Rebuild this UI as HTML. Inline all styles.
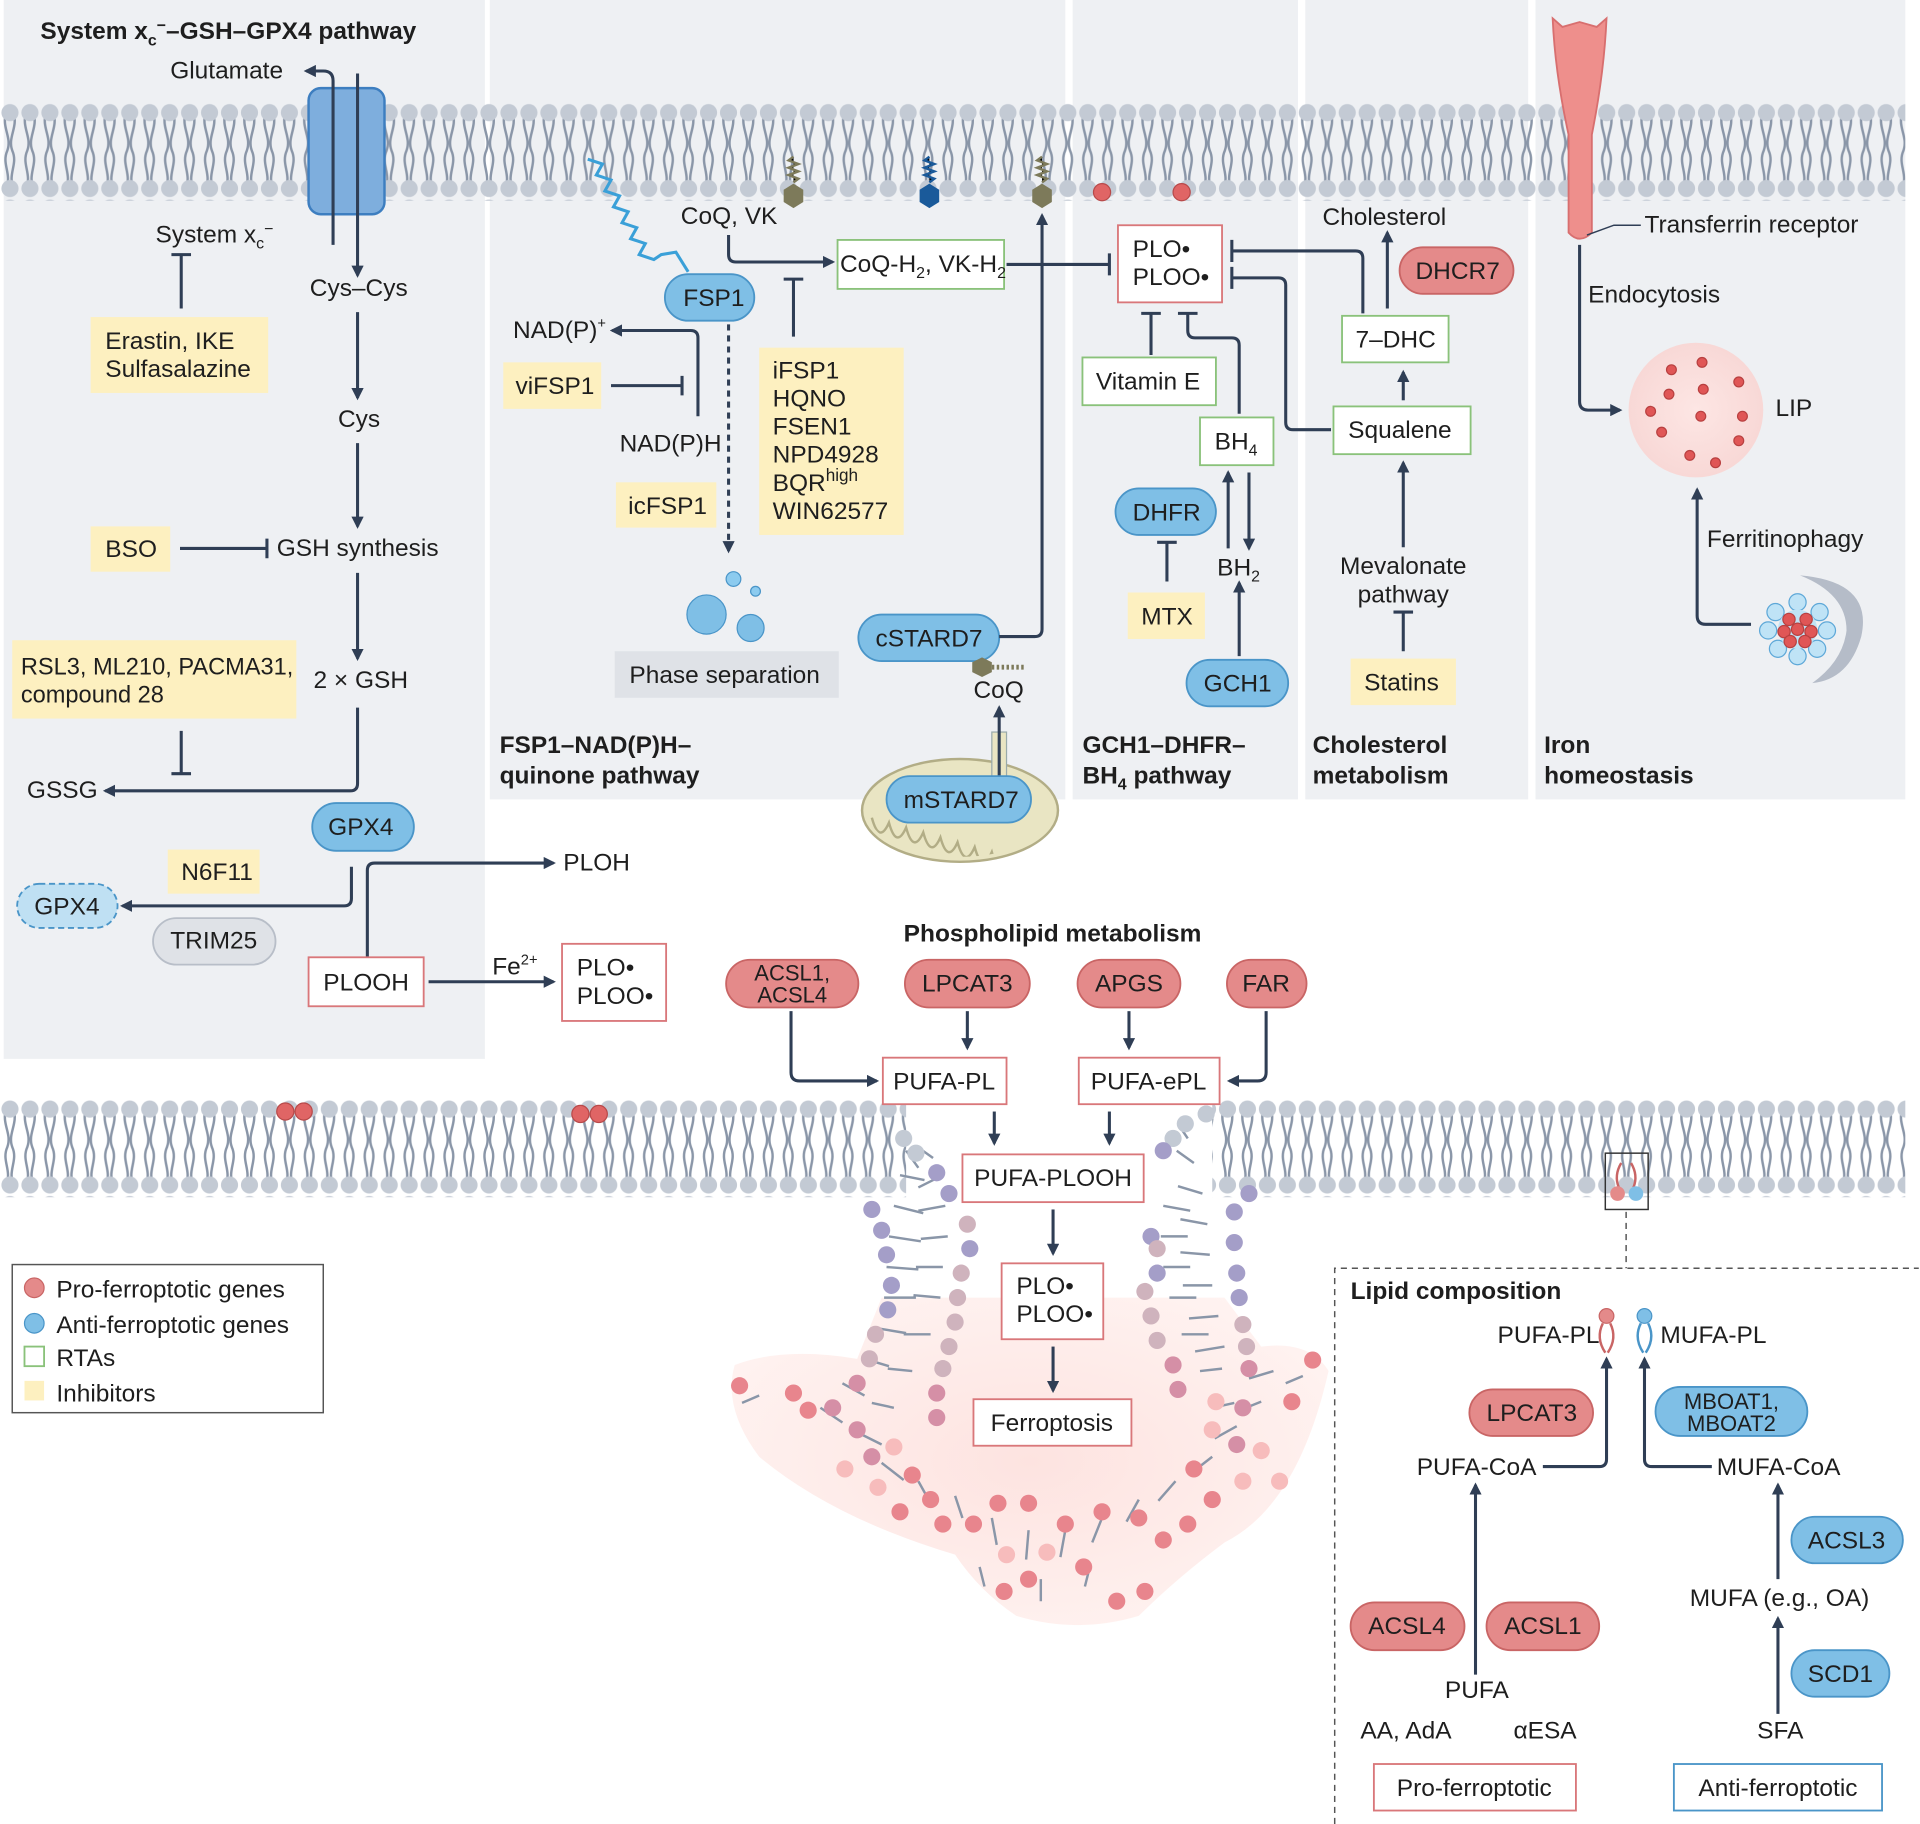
<!DOCTYPE html>
<html><head><meta charset="utf-8"><style>
html,body{margin:0;padding:0;background:#fff;}
svg{display:block;}
text{font-family:"Liberation Sans",sans-serif;fill:#1e1e1e;}
.b{font-weight:bold;}
</style></head><body>
<svg width="1920" height="1824" viewBox="0 0 1568 1490" preserveAspectRatio="none" xmlns="http://www.w3.org/2000/svg">
<defs>
<pattern id="mem" x="0" y="84" width="16.3" height="78" patternUnits="userSpaceOnUse">
<path d="M5,8 C1,20 10,28 6,39 C1,50 10,58 5,70 M11,8 C15,20 6,28 10,39 C15,50 6,58 11,70" stroke="#8a96a8" stroke-width="2" fill="none"/>
<circle cx="8.15" cy="8" r="7" fill="#c3cad4"/>
<circle cx="8.15" cy="70" r="7" fill="#c3cad4"/>
</pattern>
<pattern id="mem2" x="0" y="898" width="16.3" height="78" patternUnits="userSpaceOnUse">
<path d="M5,8 C1,20 10,28 6,39 C1,50 10,58 5,70 M11,8 C15,20 6,28 10,39 C15,50 6,58 11,70" stroke="#8a96a8" stroke-width="2" fill="none"/>
<circle cx="8.15" cy="8" r="7" fill="#c3cad4"/>
<circle cx="8.15" cy="70" r="7" fill="#c3cad4"/>
</pattern>
<marker id="a" markerWidth="10" markerHeight="10" refX="8" refY="5" orient="auto" markerUnits="userSpaceOnUse"><path d="M0,0 L10,5 L0,10 z" fill="#2f3e55"/></marker>
<radialGradient id="blob" cx="0.5" cy="0.5" r="0.6"><stop offset="0" stop-color="#fde3e0"/><stop offset="1" stop-color="#fff3f1"/></radialGradient>
<radialGradient id="lip" cx="0.5" cy="0.5" r="0.5"><stop offset="0" stop-color="#fde6e4"/><stop offset="1" stop-color="#f8d8d6"/></radialGradient>
<clipPath id="mito"><ellipse cx="784" cy="662" rx="76" ry="38"/></clipPath>
</defs>

<rect x="3" y="0" width="393" height="865" fill="#eef0f3"/>
<rect x="400" y="0" width="470" height="653" fill="#eef0f3"/>
<rect x="876" y="0" width="184" height="653" fill="#eef0f3"/>
<rect x="1066" y="0" width="182" height="653" fill="#eef0f3"/>
<rect x="1254" y="0" width="302" height="653" fill="#eef0f3"/>

<rect x="0" y="84" width="1556" height="80" fill="url(#mem)"/>
<rect x="0" y="898" width="740" height="80" fill="url(#mem2)"/>
<rect x="990" y="898" width="566" height="80" fill="url(#mem2)"/>

<g font-size="20">
<text x="33" y="32" class="b">System x<tspan font-size="13" dy="5">c</tspan><tspan font-size="13" dy="-12">−</tspan><tspan dy="7">–GSH–GPX4 pathway</tspan></text>
<rect x="252" y="72" width="62" height="103" rx="10" fill="#7eaedd" stroke="#3d7ec0" stroke-width="2"/>
<path d="M272,200 L272,66 Q272,58 264,58 L250,58" stroke="#2f3e55" stroke-width="2.5" fill="none" marker-end="url(#a)"/>
<text x="139" y="64">Glutamate</text>
<path d="M292,60 L292,225" stroke="#2f3e55" stroke-width="2.5" fill="none" marker-end="url(#a)"/>
<text x="127" y="198">System x<tspan font-size="13" dy="5">c</tspan><tspan font-size="13" dy="-12">−</tspan></text>
<path d="M148,252 L148,208 M140,208 L156,208" stroke="#2f3e55" stroke-width="2.5"/>
<rect x="74" y="259" width="145" height="62" fill="#fdf0c0"/>
<text x="86" y="285">Erastin, IKE</text><text x="86" y="308">Sulfasalazine</text>
<text x="253" y="242">Cys–Cys</text>
<path d="M292,255 L292,325" stroke="#2f3e55" stroke-width="2.5" marker-end="url(#a)"/>
<text x="276" y="349">Cys</text>
<path d="M292,362 L292,430" stroke="#2f3e55" stroke-width="2.5" marker-end="url(#a)"/>
<text x="226" y="454">GSH synthesis</text>
<rect x="74" y="430" width="65" height="37" fill="#fdf0c0"/><text x="86" y="455">BSO</text>
<path d="M147,448 L218,448 M218,440 L218,456" stroke="#2f3e55" stroke-width="2.5"/>
<path d="M292,468 L292,538" stroke="#2f3e55" stroke-width="2.5" marker-end="url(#a)"/>
<text x="256" y="562">2 × GSH</text>
<rect x="10" y="523" width="232" height="64" fill="#fdf0c0"/>
<text x="17" y="551" font-size="19.3">RSL3, ML210, PACMA31,</text><text x="17" y="574" font-size="19.3">compound 28</text>
<path d="M148,597 L148,632 M140,632 L156,632" stroke="#2f3e55" stroke-width="2.5"/>
<path d="M292,578 L292,640 Q292,646 286,646 L86,646" stroke="#2f3e55" stroke-width="2.5" fill="none" marker-end="url(#a)"/>
<text x="22" y="652">GSSG</text>
<rect x="255" y="656" width="83" height="39" rx="19.5" fill="#7fbfe6" stroke="#4a95c8" stroke-width="1.5"/><text x="268" y="682">GPX4</text>
<rect x="137" y="694" width="75" height="36" fill="#fdf0c0"/><text x="148" y="719">N6F11</text>
<rect x="125" y="750" width="100" height="38" rx="19" fill="#dfe2e7" stroke="#b8bec8" stroke-width="1.5"/><text x="139" y="775">TRIM25</text>
<rect x="14" y="722" width="82" height="36" rx="18" fill="#bfe0f3" stroke="#4a95c8" stroke-width="1.5" stroke-dasharray="5,3"/><text x="28" y="747">GPX4</text>
<path d="M287,708 L287,734 Q287,740 281,740 L100,740" stroke="#2f3e55" stroke-width="2.5" fill="none" marker-end="url(#a)"/>
<path d="M300,782 L300,711 Q300,705 306,705 L452,705" stroke="#2f3e55" stroke-width="2.5" fill="none" marker-end="url(#a)"/>
<text x="460" y="711">PLOH</text>
<rect x="252" y="782" width="94" height="40" fill="#fff" stroke="#d9777a" stroke-width="1.5"/><text x="264" y="809">PLOOH</text>
<path d="M350,802 L452,802" stroke="#2f3e55" stroke-width="2.5" marker-end="url(#a)"/>
<text x="402" y="796">Fe<tspan font-size="12" dy="-8">2+</tspan></text>
<rect x="459" y="771" width="85" height="63" fill="#fff" stroke="#d9777a" stroke-width="1.5"/>
<text x="471" y="797">PLO•</text><text x="471" y="820">PLOO•</text>

<polyline points="480,130 492,134 487,143 499,147 494,156 506,160 501,169 513,173 508,182 520,186 515,195 527,199 522,208 534,212 540,208 552,206 562,222" stroke="#3aa0d8" stroke-width="2.5" fill="none"/>
<text x="556" y="183">CoQ, VK</text>
<path d="M595,192 L595,208 Q595,214 601,214 L680,214" stroke="#2f3e55" stroke-width="2.5" fill="none" marker-end="url(#a)"/>
<rect x="684" y="196" width="136" height="40" fill="#fff" stroke="#8ac27a" stroke-width="1.5"/>
<text x="686" y="222">CoQ-H<tspan font-size="13" dy="5">2</tspan><tspan dy="-5">, VK-H</tspan><tspan font-size="13" dy="5">2</tspan></text>
<path d="M822,216 L906,216 M906,207 L906,225" stroke="#2f3e55" stroke-width="2.5"/>
<rect x="543" y="224" width="73" height="38" rx="19" fill="#7fbfe6" stroke="#4a95c8" stroke-width="1.5"/><text x="558" y="250">FSP1</text>
<text x="419" y="276">NAD(P)<tspan font-size="12" dy="-8">+</tspan></text>
<path d="M570,340 L570,276 Q570,270 564,270 L500,270" stroke="#2f3e55" stroke-width="2.5" fill="none" marker-end="url(#a)"/>
<rect x="411" y="296" width="80" height="38" fill="#fdf0c0"/><text x="421" y="322">viFSP1</text>
<path d="M499,315 L557,315 M557,307 L557,323" stroke="#2f3e55" stroke-width="2.5"/>
<text x="506" y="369">NAD(P)H</text>
<path d="M595,265 L595,450" stroke="#2f3e55" stroke-width="2.5" stroke-dasharray="5,4" marker-end="url(#a)"/>
<rect x="503" y="394" width="82" height="37" fill="#fdf0c0"/><text x="513" y="420">icFSP1</text>
<circle cx="599" cy="473" r="6" fill="#8ccbef" stroke="#4a95c8"/><circle cx="617" cy="483" r="4" fill="#8ccbef" stroke="#4a95c8"/>
<circle cx="577" cy="502" r="16" fill="#7fbfe6" stroke="#4a95c8"/><circle cx="613" cy="513" r="11" fill="#7fbfe6" stroke="#4a95c8"/>
<rect x="502" y="532" width="183" height="38" fill="#dfe2e7"/><text x="514" y="558">Phase separation</text>
<path d="M648,275 L648,228 M640,228 L656,228" stroke="#2f3e55" stroke-width="2.5"/>
<rect x="620" y="284" width="118" height="153" fill="#fdf0c0"/>
<text x="631" y="309">iFSP1</text><text x="631" y="332">HQNO</text><text x="631" y="355">FSEN1</text><text x="631" y="378">NPD4928</text>
<text x="631" y="401">BQR<tspan font-size="14" dy="-8">high</tspan></text><text x="631" y="424">WIN62577</text>
<g stroke="#7d7a5a" stroke-width="2"><path d="M648,128 l-4,3 l8,3 l-8,3 l8,3 l-8,3 l8,3 l-4,3"/><path d="M851,128 l-4,3 l8,3 l-8,3 l8,3 l-8,3 l8,3 l-4,3"/></g>
<polygon points="648,150 656,155 656,165 648,170 640,165 640,155" fill="#7d7a5a"/>
<path d="M759,128 l-4,3 l8,3 l-8,3 l8,3 l-8,3 l8,3 l-4,3" stroke="#1a5a9a" stroke-width="2"/>
<polygon points="759,150 767,155 767,165 759,170 751,165 751,155" fill="#1a5a9a"/>
<polygon points="851,150 859,155 859,165 851,170 843,165 843,155" fill="#7d7a5a"/>
<rect x="701" y="502" width="115" height="38" rx="19" fill="#7fbfe6" stroke="#4a95c8" stroke-width="1.5"/><text x="715" y="528">cSTARD7</text>
<path d="M816,520 L845,520 Q851,520 851,514 L851,176" stroke="#2f3e55" stroke-width="2.5" fill="none" marker-end="url(#a)"/>
<polygon points="802,537 810,541 810,549 802,553 794,549 794,541" fill="#7d7a5a"/>
<path d="M810,545 l26,0" stroke="#7d7a5a" stroke-width="4" stroke-dasharray="2,2"/>
<text x="795" y="570">CoQ</text>
<ellipse cx="784" cy="662" rx="80" ry="42" fill="#e9e5c3" stroke="#b2ad86" stroke-width="2"/>
<g clip-path="url(#mito)"><path d="M712,668 q6,22 14,4 q6,22 14,4 q6,22 14,4 q6,22 14,4 q6,22 14,4 q6,22 14,4 q6,22 14,4 q6,22 14,4 q6,22 14,4 q6,22 14,0 q6,22 14,0" stroke="#b2ad86" stroke-width="2" fill="none"/></g>
<rect x="810" y="598" width="12" height="44" fill="#e9e5c3" stroke="#9aa"/>
<path d="M816,640 L816,578" stroke="#2f3e55" stroke-width="2.5" marker-end="url(#a)"/>
<rect x="724" y="634" width="118" height="38" rx="19" fill="#7fbfe6" stroke="#4a95c8" stroke-width="1.5"/><text x="738" y="660">mSTARD7</text>
<text x="408" y="615" class="b">FSP1–NAD(P)H–</text><text x="408" y="640" class="b">quinone pathway</text>

<circle cx="900" cy="157" r="7" fill="#e06565" stroke="#b84a4a"/><circle cx="965" cy="157" r="7" fill="#e06565" stroke="#b84a4a"/>
<rect x="913" y="184" width="85" height="63" fill="#fff" stroke="#d9777a" stroke-width="1.5"/>
<text x="925" y="210">PLO•</text><text x="925" y="233">PLOO•</text>
<path d="M940,290 L940,256 M932,256 L948,256" stroke="#2f3e55" stroke-width="2.5"/>
<rect x="884" y="292" width="109" height="39" fill="#fff" stroke="#8ac27a" stroke-width="1.5"/><text x="895" y="318">Vitamin E</text>
<path d="M1012,338 L1012,282 Q1012,276 1006,276 L976,276 Q970,276 970,270 L970,256 M962,256 L978,256" stroke="#2f3e55" stroke-width="2.5" fill="none"/>
<rect x="980" y="341" width="60" height="39" fill="#fff" stroke="#8ac27a" stroke-width="1.5"/><text x="992" y="367">BH<tspan font-size="13" dy="5">4</tspan></text>
<path d="M1003,448 L1003,386" stroke="#2f3e55" stroke-width="2.5" marker-end="url(#a)"/>
<path d="M1020,386 L1020,448" stroke="#2f3e55" stroke-width="2.5" marker-end="url(#a)"/>
<text x="994" y="470">BH<tspan font-size="13" dy="5">2</tspan></text>
<rect x="911" y="399" width="82" height="38" rx="19" fill="#7fbfe6" stroke="#4a95c8" stroke-width="1.5"/><text x="925" y="425">DHFR</text>
<path d="M953,475 L953,443 M945,443 L961,443" stroke="#2f3e55" stroke-width="2.5"/>
<rect x="921" y="484" width="63" height="38" fill="#fdf0c0"/><text x="932" y="510">MTX</text>
<rect x="969" y="539" width="83" height="38" rx="19" fill="#7fbfe6" stroke="#4a95c8" stroke-width="1.5"/><text x="983" y="565">GCH1</text>
<path d="M1012,536 L1012,476" stroke="#2f3e55" stroke-width="2.5" marker-end="url(#a)"/>
<text x="884" y="615" class="b">GCH1–DHFR–</text><text x="884" y="640" class="b">BH<tspan font-size="13" dy="5">4</tspan><tspan dy="-5"> pathway</tspan></text>

<text x="1080" y="184">Cholesterol</text>
<rect x="1143" y="202" width="93" height="38" rx="19" fill="#e48a8a" stroke="#c96565" stroke-width="1.5"/><text x="1156" y="228">DHCR7</text>
<path d="M1133,252 L1133,190" stroke="#2f3e55" stroke-width="2.5" marker-end="url(#a)"/>
<path d="M1113,256 L1113,211 Q1113,205 1107,205 L1006,205 M1006,196 L1006,214" stroke="#2f3e55" stroke-width="2.5" fill="none"/>
<path d="M1087,351 L1056,351 Q1050,351 1050,345 L1050,233 Q1050,227 1044,227 L1006,227 M1006,218 L1006,236" stroke="#2f3e55" stroke-width="2.5" fill="none"/>
<rect x="1096" y="258" width="87" height="38" fill="#fff" stroke="#8ac27a" stroke-width="1.5"/><text x="1107" y="284">7–DHC</text>
<path d="M1146,327 L1146,304" stroke="#2f3e55" stroke-width="2.5" marker-end="url(#a)"/>
<rect x="1089" y="332" width="112" height="39" fill="#fff" stroke="#8ac27a" stroke-width="1.5"/><text x="1101" y="358">Squalene</text>
<path d="M1146,447 L1146,378" stroke="#2f3e55" stroke-width="2.5" marker-end="url(#a)"/>
<text x="1146" y="469" text-anchor="middle">Mevalonate</text><text x="1146" y="492" text-anchor="middle">pathway</text>
<path d="M1146,532 L1146,500 M1138,500 L1154,500" stroke="#2f3e55" stroke-width="2.5"/>
<rect x="1103" y="538" width="86" height="38" fill="#fdf0c0"/><text x="1114" y="564">Statins</text>
<text x="1072" y="615" class="b">Cholesterol</text><text x="1072" y="640" class="b">metabolism</text>

<path d="M1268,15 L1276,22 L1290,18 L1304,22 L1312,15 Q1310,60 1300,110 L1300,190 Q1290,200 1281,190 L1281,110 Q1270,60 1268,15 z" fill="#ee8f8c" stroke="#d86f6f" stroke-width="1.5"/>
<path d="M1296,192 L1318,184 L1340,184" stroke="#2f3e55" stroke-width="1.2" fill="none"/>
<text x="1343" y="190">Transferrin receptor</text>
<text x="1297" y="247">Endocytosis</text>
<path d="M1290,200 L1290,328 Q1290,335 1297,335 L1323,335" stroke="#2f3e55" stroke-width="2.5" fill="none" marker-end="url(#a)"/>
<circle cx="1385" cy="335" r="55" fill="url(#lip)"/>
<g fill="#e05656" stroke="#b84040"><circle cx="1365" cy="302" r="4"/><circle cx="1390" cy="296" r="4"/><circle cx="1420" cy="312" r="4"/><circle cx="1363" cy="322" r="4"/><circle cx="1391" cy="318" r="4"/><circle cx="1348" cy="336" r="4"/><circle cx="1389" cy="340" r="4"/><circle cx="1423" cy="340" r="4"/><circle cx="1357" cy="353" r="4"/><circle cx="1420" cy="360" r="4"/><circle cx="1380" cy="372" r="4"/><circle cx="1401" cy="378" r="4"/></g>
<text x="1450" y="340">LIP</text>
<text x="1394" y="447">Ferritinophagy</text>
<path d="M1430,510 L1393,510 Q1386,510 1386,503 L1386,400" stroke="#2f3e55" stroke-width="2.5" fill="none" marker-end="url(#a)"/>
<path d="M1470,470 Q1530,475 1520,520 Q1510,555 1480,558 Q1505,540 1508,515 Q1508,485 1470,470 z" fill="#b5bcc8"/>
<g fill="#bfe3f6" stroke="#5ea8d8"><circle cx="1468" cy="492" r="7"/><circle cx="1486" cy="500" r="7"/><circle cx="1492" cy="515" r="7"/><circle cx="1484" cy="530" r="7"/><circle cx="1468" cy="536" r="7"/><circle cx="1452" cy="530" r="7"/><circle cx="1444" cy="515" r="7"/><circle cx="1450" cy="500" r="7"/></g>
<circle cx="1468" cy="514" r="16" fill="#bfe3f6"/>
<g fill="#e05656" stroke="#b84040"><circle cx="1461" cy="506" r="5"/><circle cx="1475" cy="506" r="5"/><circle cx="1468" cy="514" r="5"/><circle cx="1457" cy="516" r="5"/><circle cx="1479" cy="516" r="5"/><circle cx="1462" cy="524" r="5"/><circle cx="1474" cy="524" r="5"/></g>
<text x="1261" y="615" class="b">Iron</text><text x="1261" y="640" class="b">homeostasis</text>

<text x="738" y="769" class="b">Phospholipid metabolism</text>
<rect x="593" y="784" width="108" height="39" rx="19.5" fill="#e48a8a" stroke="#c96565" stroke-width="1.5"/>
<text x="647" y="801" text-anchor="middle" font-size="18">ACSL1,</text><text x="647" y="819" text-anchor="middle" font-size="18">ACSL4</text>
<rect x="739" y="784" width="102" height="39" rx="19.5" fill="#e48a8a" stroke="#c96565" stroke-width="1.5"/><text x="790" y="810" text-anchor="middle">LPCAT3</text>
<rect x="880" y="784" width="84" height="39" rx="19.5" fill="#e48a8a" stroke="#c96565" stroke-width="1.5"/><text x="922" y="810" text-anchor="middle">APGS</text>
<rect x="1002" y="784" width="65" height="39" rx="19.5" fill="#e48a8a" stroke="#c96565" stroke-width="1.5"/><text x="1034" y="810" text-anchor="middle">FAR</text>
<path d="M646,826 L646,876 Q646,883 653,883 L716,883" stroke="#2f3e55" stroke-width="2.5" fill="none" marker-end="url(#a)"/>
<path d="M1034,826 L1034,876 Q1034,883 1027,883 L1004,883" stroke="#2f3e55" stroke-width="2.5" fill="none" marker-end="url(#a)"/>
<path d="M790,826 L790,856" stroke="#2f3e55" stroke-width="2.5" marker-end="url(#a)"/>
<path d="M922,826 L922,856" stroke="#2f3e55" stroke-width="2.5" marker-end="url(#a)"/>
<rect x="721" y="864" width="101" height="38" fill="#fff" stroke="#d9777a" stroke-width="1.5"/><text x="771" y="890" text-anchor="middle">PUFA-PL</text>
<rect x="881" y="864" width="115" height="38" fill="#fff" stroke="#d9777a" stroke-width="1.5"/><text x="938" y="890" text-anchor="middle">PUFA-ePL</text>

<path d="M600,1115 Q640,1100 700,1110 L720,1060 L1000,1060 L1030,1100 Q1070,1095 1085,1120 Q1060,1230 1000,1260 Q960,1290 930,1320 Q880,1335 830,1320 Q800,1300 780,1270 Q680,1240 620,1190 Q590,1150 600,1115 z" fill="url(#blob)"/>
<g stroke="#8a96a8" stroke-width="2" fill="none">
<path d="M740,940 l10,14 M748,936 l14,10 M735,960 l20,4 M730,985 l24,6 M726,1010 l26,4 M724,1035 l26,2 M722,1060 l26,0 M716,1085 l24,4 M706,1110 l20,6 M688,1130 l18,10 M670,1150 l18,12 M700,1170 l20,10 M720,1195 l18,14 M750,1210 l10,18 M780,1222 l6,18 M810,1240 l4,22 M840,1250 l-2,24 M870,1250 l-4,22 M900,1240 l-8,20 M930,1225 l-10,18 M960,1210 l-14,16 M990,1190 l-18,14 M1010,1165 l-18,10 M1030,1145 l-20,8 M1040,1120 l-20,6 M1000,1100 l-24,4 M995,1075 l-24,2 M990,1050 l-24,0 M988,1025 l-24,-2 M986,1000 l-22,-4 M982,975 l-20,-6 M975,950 l-14,-10 M970,930 l-8,-12 M770,960 l-20,10 M772,985 l-22,4 M774,1010 l-22,2 M770,1035 l-22,0 M768,1060 l-22,-2 M760,1090 l-22,0 M745,1120 l-20,-2 M730,1150 l-18,-4 M950,985 l22,4 M948,1010 l22,0 M950,1035 l22,0 M955,1060 l22,0 M965,1090 l22,0 M980,1120 l18,-2 M990,1150 l18,-4 M800,1280 l4,16 M850,1290 l0,18 M890,1280 l-4,16 M620,1140 l-14,6 M1050,1130 l14,-6"/>
</g>
<g fill="#c3cad4"><circle cx="738" cy="930" r="7"/><circle cx="748" cy="942" r="7"/><circle cx="968" cy="918" r="7"/><circle cx="958" cy="930" r="7"/><circle cx="985" cy="910" r="7"/></g>
<g fill="#a49ec8"><circle cx="765" cy="958" r="7"/><circle cx="775" cy="975" r="7"/><circle cx="712" cy="988" r="7"/><circle cx="720" cy="1005" r="7"/><circle cx="724" cy="1025" r="7"/><circle cx="728" cy="1050" r="7"/><circle cx="725" cy="1070" r="7"/><circle cx="792" cy="1020" r="7"/><circle cx="950" cy="940" r="7"/><circle cx="1008" cy="990" r="7"/><circle cx="1008" cy="1015" r="7"/><circle cx="1010" cy="1040" r="7"/><circle cx="1012" cy="1060" r="7"/><circle cx="940" cy="1010" r="7"/><circle cx="945" cy="1040" r="7"/><circle cx="1020" cy="975" r="7"/></g>
<g fill="#cfb3bd"><circle cx="790" cy="1000" r="7"/><circle cx="785" cy="1040" r="7"/><circle cx="782" cy="1060" r="7"/><circle cx="780" cy="1080" r="7"/><circle cx="715" cy="1090" r="7"/><circle cx="710" cy="1110" r="7"/><circle cx="775" cy="1100" r="7"/><circle cx="770" cy="1118" r="7"/><circle cx="935" cy="1055" r="7"/><circle cx="940" cy="1075" r="7"/><circle cx="945" cy="1095" r="7"/><circle cx="1015" cy="1082" r="7"/><circle cx="1018" cy="1100" r="7"/><circle cx="945" cy="1020" r="7"/></g>
<g fill="#d58fa6"><circle cx="700" cy="1130" r="7"/><circle cx="680" cy="1150" r="7"/><circle cx="700" cy="1168" r="7"/><circle cx="712" cy="1190" r="7"/><circle cx="765" cy="1138" r="7"/><circle cx="765" cy="1158" r="7"/><circle cx="958" cy="1115" r="7"/><circle cx="962" cy="1135" r="7"/><circle cx="1020" cy="1118" r="7"/><circle cx="1015" cy="1150" r="7"/><circle cx="1010" cy="1180" r="7"/></g>
<g fill="#e8858d"><circle cx="604" cy="1132" r="7"/><circle cx="648" cy="1138" r="7"/><circle cx="660" cy="1152" r="7"/><circle cx="1072" cy="1111" r="7"/><circle cx="1055" cy="1145" r="7"/><circle cx="745" cy="1205" r="7"/><circle cx="760" cy="1225" r="7"/><circle cx="770" cy="1245" r="7"/><circle cx="795" cy="1245" r="7"/><circle cx="815" cy="1228" r="7"/><circle cx="840" cy="1228" r="7"/><circle cx="870" cy="1245" r="7"/><circle cx="900" cy="1235" r="7"/><circle cx="930" cy="1240" r="7"/><circle cx="950" cy="1258" r="7"/><circle cx="970" cy="1245" r="7"/><circle cx="990" cy="1225" r="7"/><circle cx="975" cy="1200" r="7"/><circle cx="820" cy="1300" r="7"/><circle cx="840" cy="1290" r="7"/><circle cx="885" cy="1280" r="7"/><circle cx="912" cy="1308" r="7"/><circle cx="935" cy="1300" r="7"/><circle cx="735" cy="1235" r="7"/></g>
<g fill="#f7bcbc"><circle cx="717" cy="1215" r="7"/><circle cx="730" cy="1182" r="7"/><circle cx="822" cy="1270" r="7"/><circle cx="855" cy="1268" r="7"/><circle cx="993" cy="1145" r="7"/><circle cx="990" cy="1168" r="7"/><circle cx="1030" cy="1185" r="7"/><circle cx="1045" cy="1210" r="7"/><circle cx="1015" cy="1210" r="7"/><circle cx="690" cy="1200" r="7"/></g>

<rect x="786" y="943" width="148" height="39" fill="#fff" stroke="#d9777a" stroke-width="1.5"/><text x="860" y="969" text-anchor="middle">PUFA-PLOOH</text>
<path d="M812,908 L812,934" stroke="#2f3e55" stroke-width="2.5" marker-end="url(#a)"/>
<path d="M906,908 L906,934" stroke="#2f3e55" stroke-width="2.5" marker-end="url(#a)"/>
<path d="M860,988 L860,1024" stroke="#2f3e55" stroke-width="2.5" marker-end="url(#a)"/>
<rect x="818" y="1032" width="83" height="62" fill="#fff" stroke="#d9777a" stroke-width="1.5"/>
<text x="830" y="1057">PLO•</text><text x="830" y="1080">PLOO•</text>
<path d="M860,1100 L860,1136" stroke="#2f3e55" stroke-width="2.5" marker-end="url(#a)"/>
<rect x="795" y="1143" width="129" height="38" fill="#fff" stroke="#d9777a" stroke-width="1.5"/><text x="859" y="1169" text-anchor="middle">Ferroptosis</text>

<g fill="#e06565" stroke="#b84a4a"><circle cx="233" cy="908" r="7"/><circle cx="248" cy="908" r="7"/><circle cx="474" cy="910" r="7"/><circle cx="489" cy="910" r="7"/></g>

<rect x="10" y="1033" width="254" height="121" fill="#fff" stroke="#555" stroke-width="1.2"/>
<circle cx="28" cy="1052" r="8" fill="#e48a8a" stroke="#c96565"/><text x="46" y="1060">Pro-ferroptotic genes</text>
<circle cx="28" cy="1081" r="8" fill="#7fbfe6" stroke="#4a95c8"/><text x="46" y="1089">Anti-ferroptotic genes</text>
<rect x="20" y="1100" width="16" height="16" fill="#fff" stroke="#8ac27a" stroke-width="1.5"/><text x="46" y="1116">RTAs</text>
<rect x="20" y="1128" width="16" height="16" fill="#fdf0c0"/><text x="46" y="1145">Inhibitors</text>

<rect x="1311" y="942" width="35" height="46" fill="none" stroke="#333" stroke-width="1.2"/>
<path d="M1322,970 q-4,-10 2,-20 M1334,970 q4,-10 -2,-20" stroke="#c96565" stroke-width="2" fill="none"/>
<circle cx="1321" cy="975" r="6" fill="#e48a8a"/><circle cx="1336" cy="975" r="6" fill="#7fbfe6"/>
<path d="M1328,990 L1328,1036" stroke="#555" stroke-width="1.2" stroke-dasharray="5,4"/>
<path d="M1090,1490 L1090,1036 L1567,1036" stroke="#555" stroke-width="1.2" stroke-dasharray="5,4" fill="none"/>
<text x="1103" y="1061" class="b">Lipid composition</text>
<text x="1223" y="1097">PUFA-PL</text><text x="1356" y="1097">MUFA-PL</text>
<circle cx="1312" cy="1075" r="6" fill="#e48a8a" stroke="#c96565"/><path d="M1309,1081 q-6,12 2,24 M1315,1081 q6,12 -2,24" stroke="#c96565" stroke-width="2" fill="none"/>
<circle cx="1343" cy="1075" r="6" fill="#7fbfe6" stroke="#4a95c8"/><path d="M1340,1081 q-6,12 2,24 M1346,1081 q6,12 -2,24" stroke="#4a95c8" stroke-width="2" fill="none"/>
<rect x="1200" y="1135" width="101" height="38" rx="19" fill="#e48a8a" stroke="#c96565" stroke-width="1.5"/><text x="1251" y="1161" text-anchor="middle">LPCAT3</text>
<rect x="1352" y="1133" width="124" height="40" rx="20" fill="#7fbfe6" stroke="#4a95c8" stroke-width="1.5"/>
<text x="1414" y="1151" text-anchor="middle" font-size="18">MBOAT1,</text><text x="1414" y="1169" text-anchor="middle" font-size="18">MBOAT2</text>
<text x="1157" y="1205">PUFA-CoA</text><text x="1402" y="1205">MUFA-CoA</text>
<path d="M1260,1198 L1306,1198 Q1312,1198 1312,1192 L1312,1110" stroke="#2f3e55" stroke-width="2.5" fill="none" marker-end="url(#a)"/>
<path d="M1398,1198 L1349,1198 Q1343,1198 1343,1192 L1343,1110" stroke="#2f3e55" stroke-width="2.5" fill="none" marker-end="url(#a)"/>
<path d="M1205,1368 L1205,1213" stroke="#2f3e55" stroke-width="2.5" marker-end="url(#a)"/>
<rect x="1103" y="1309" width="93" height="39" rx="19.5" fill="#e48a8a" stroke="#c96565" stroke-width="1.5"/><text x="1149" y="1335" text-anchor="middle">ACSL4</text>
<rect x="1214" y="1309" width="92" height="39" rx="19.5" fill="#e48a8a" stroke="#c96565" stroke-width="1.5"/><text x="1260" y="1335" text-anchor="middle">ACSL1</text>
<text x="1180" y="1387">PUFA</text><text x="1111" y="1420">AA, AdA</text><text x="1236" y="1420">αESA</text>
<rect x="1122" y="1441" width="165" height="38" fill="#fff" stroke="#d9777a" stroke-width="1.5"/><text x="1204" y="1467" text-anchor="middle">Pro-ferroptotic</text>
<rect x="1463" y="1239" width="91" height="38" rx="19" fill="#7fbfe6" stroke="#4a95c8" stroke-width="1.5"/><text x="1508" y="1265" text-anchor="middle">ACSL3</text>
<path d="M1452,1290 L1452,1213" stroke="#2f3e55" stroke-width="2.5" marker-end="url(#a)"/>
<text x="1380" y="1312">MUFA (e.g., OA)</text>
<rect x="1463" y="1348" width="80" height="38" rx="19" fill="#7fbfe6" stroke="#4a95c8" stroke-width="1.5"/><text x="1503" y="1374" text-anchor="middle">SCD1</text>
<path d="M1452,1400 L1452,1322" stroke="#2f3e55" stroke-width="2.5" marker-end="url(#a)"/>
<text x="1435" y="1420">SFA</text>
<rect x="1367" y="1441" width="170" height="38" fill="#fff" stroke="#4a95c8" stroke-width="1.5"/><text x="1452" y="1467" text-anchor="middle">Anti-ferroptotic</text>
</g>
</svg>
</body></html>
